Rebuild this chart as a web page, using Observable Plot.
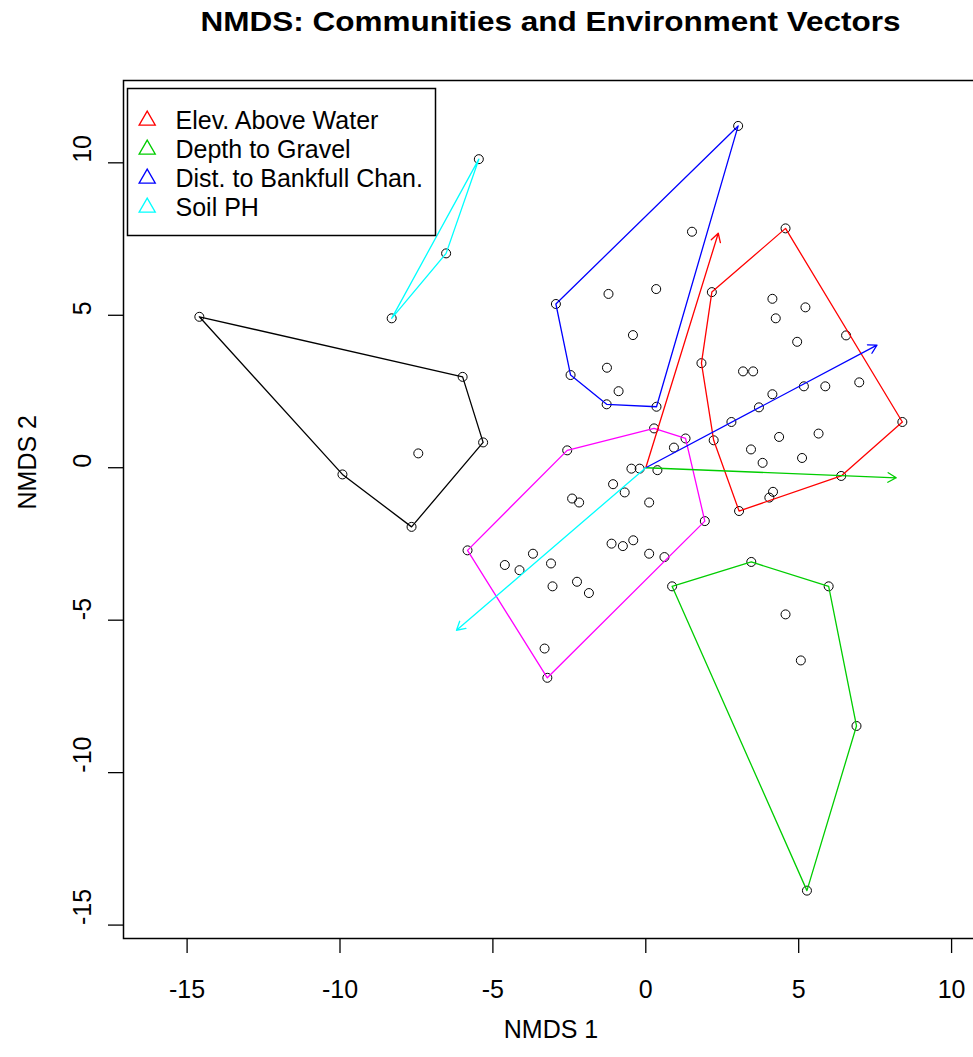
<!DOCTYPE html>
<html><head><meta charset="utf-8">
<script src="https://cdn.jsdelivr.net/npm/d3@7"></script>
<script src="https://cdn.jsdelivr.net/npm/@observablehq/plot@0.6"></script>
<style>
html,body{margin:0;padding:0;background:#fff;overflow:hidden;}
#wrap{position:relative;width:973px;height:1057px;overflow:hidden;font-family:"Liberation Sans",Arial,sans-serif;}
#chart{position:absolute;left:0;top:0;width:980px;}
#chart svg, #legend svg{max-width:none !important;}
#title{position:absolute;left:0;top:8px;width:1101px;text-align:center;font-weight:bold;font-size:28px;line-height:28px;transform:scaleX(1.125);transform-origin:550.5px 0;white-space:nowrap;color:#000;}
#legend{position:absolute;left:126px;top:87px;}
</style></head>
<body><div id="wrap"><div id="chart"></div><div id="title">NMDS: Communities and Environment Vectors</div><div id="legend"></div></div>
<script>
// Site scores (NMDS1, NMDS2) per community group
const sitesBlack = [[-14.60,4.95],[-5.99,2.98],[-5.32,0.83],[-7.66,-1.94],[-9.92,-0.22],[-7.44,0.47]];
const sitesCyan = [[-8.31,4.90],[-6.53,7.03],[-5.46,10.12]];
const sitesBlue = [[3.02,11.21],[-2.94,5.37],[-2.46,3.04],[-1.28,2.08],[0.35,2.00],[-1.22,5.70],[0.34,5.86],[-0.42,4.35],[-1.27,3.28],[-0.89,2.51],[1.51,7.74]];
const sitesRed = [[4.57,7.85],[2.16,5.76],[1.82,3.43],[2.22,0.90],[3.05,-1.42],[6.39,-0.27],[8.39,1.50],
  [4.14,5.54],[5.22,5.26],[4.25,4.90],[6.55,4.34],[4.95,4.13],[3.18,3.16],[3.51,3.16],[5.17,2.67],[5.87,2.67],
  [6.98,2.80],[4.14,2.41],[3.70,1.98],[2.80,1.50],[4.36,1.01],[5.65,1.12],[3.44,0.60],[3.82,0.16],[5.11,0.32],
  [4.16,-0.79],[4.04,-0.98]];
const sitesMagenta = [[-2.57,0.57],[0.27,1.29],[1.30,0.96],[1.93,-1.75],[-3.22,-6.89],[-5.83,-2.71],
  [0.92,0.66],[-0.47,-0.03],[-0.20,-0.03],[0.38,-0.08],[-1.07,-0.54],[-0.69,-0.81],[0.11,-1.14],[-2.41,-1.01],
  [-2.18,-1.14],[-1.12,-2.49],[-0.75,-2.57],[-0.41,-2.38],[0.11,-2.82],[0.61,-2.93],[-3.69,-2.82],[-3.10,-3.14],
  [-4.61,-3.19],[-4.13,-3.36],[-3.05,-3.89],[-2.25,-3.74],[-1.86,-4.11],[-3.31,-5.93]];
const sitesGreen = [[0.86,-3.89],[3.45,-3.09],[5.98,-3.89],[6.89,-8.47],[5.27,-13.87],[4.57,-4.81],[5.07,-6.32]];

const groupNames = ["black","cyan","blue","red","magenta","green"];
const groupColors = ["#000000","#00FFFF","#0000FF","#FF0000","#FF00FF","#00CD00"];
const groupSites = [sitesBlack, sitesCyan, sitesBlue, sitesRed, sitesMagenta, sitesGreen];

// Environmental vectors
const envNames = ["Elev. Above Water","Depth to Gravel","Dist. to Bankfull Chan.","Soil PH"];
const envColors = ["#FF0000","#00CD00","#0000FF","#00FFFF"];
const envX = [2.37, 8.19, 7.56, -6.19];
const envY = [7.69, -0.33, 4.02, -5.33];

const xTicks = [-15,-10,-5,0,5,10];
const yTicks = [-15,-10,-5,0,5,10];

const sites = groupSites.flatMap((pts,i) => pts.map(([x,y]) => ({x, y, g: groupNames[i]})));
const hulls = groupSites.flatMap((pts,i) => {
  const h = d3.polygonHull(pts);
  return [...h, h[0]].map(([x,y]) => ({x, y, g: groupNames[i], color: groupColors[i]}));
});
const vectors = envNames.map((name,i) => ({name, x: envX[i], y: envY[i], color: envColors[i]}));

const font = "'Liberation Sans', Arial, sans-serif";

const chart = Plot.plot({
  width: 980, height: 1057,
  marginLeft: 123, marginRight: 2, marginTop: 80, marginBottom: 119,
  x: {domain: [-17.08, 10.88], axis: null},
  y: {domain: [-15.44, 12.70], axis: null},
  color: {type: "identity"},
  style: {fontFamily: font, background: "white", overflow: "visible", maxWidth: "none"},
  marks: [
    Plot.axisX(xTicks, {anchor: "bottom", label: null, tickSize: 15, tickPadding: 27, fontSize: 25, strokeWidth: 1.3, tickFormat: d => String(d)}),
    Plot.axisY(yTicks, {anchor: "left", label: null, tickSize: 15, strokeWidth: 1.3, fill: "none", tickFormat: () => ""}),
    Plot.text(yTicks, {y: d => d, text: d => String(d), frameAnchor: "left", dx: -41, rotate: -90, fontSize: 25, fill: "black"}),
    Plot.text(["NMDS 1"], {text: d => d, frameAnchor: "bottom", dy: 99, fontSize: 25, fill: "black"}),
    Plot.text(["NMDS 2"], {text: d => d, frameAnchor: "left", dx: -96, rotate: -90, fontSize: 25, fill: "black"}),
    Plot.dot(sites, {x: "x", y: "y", r: 4.5, stroke: "black", strokeWidth: 1, fill: "none"}),
    Plot.line(hulls, {x: "x", y: "y", z: "g", stroke: "color", strokeWidth: 1.3}),
    Plot.arrow(vectors, {x1: () => 0, y1: () => 0, x2: "x", y2: "y", stroke: "color", strokeWidth: 1.3, headLength: 11, headAngle: 60}),
    Plot.frame({stroke: "black", strokeWidth: 1.5})
  ]
});
document.getElementById("chart").append(chart);

const legendRows = envNames.map((name,i) => ({name, color: envColors[i]}));
const legend = Plot.plot({
  width: 310, height: 149, margin: 1,
  x: {axis: null},
  y: {type: "point", domain: envNames, range: [32, 120], padding: 0, axis: null},
  color: {type: "identity"},
  style: {fontFamily: font, background: "white", overflow: "visible", maxWidth: "none"},
  marks: [
    Plot.frame({stroke: "black", strokeWidth: 1.5}),
    Plot.dot(legendRows, {y: "name", frameAnchor: "left", dx: 19.7, symbol: "triangle", r: 6, stroke: "color", fill: "none", strokeWidth: 1.3}),
    Plot.text(legendRows, {y: "name", text: "name", frameAnchor: "left", dx: 48, textAnchor: "start", fontSize: 25, fill: "black"})
  ]
});
document.getElementById("legend").append(legend);
</script>
</body></html>
